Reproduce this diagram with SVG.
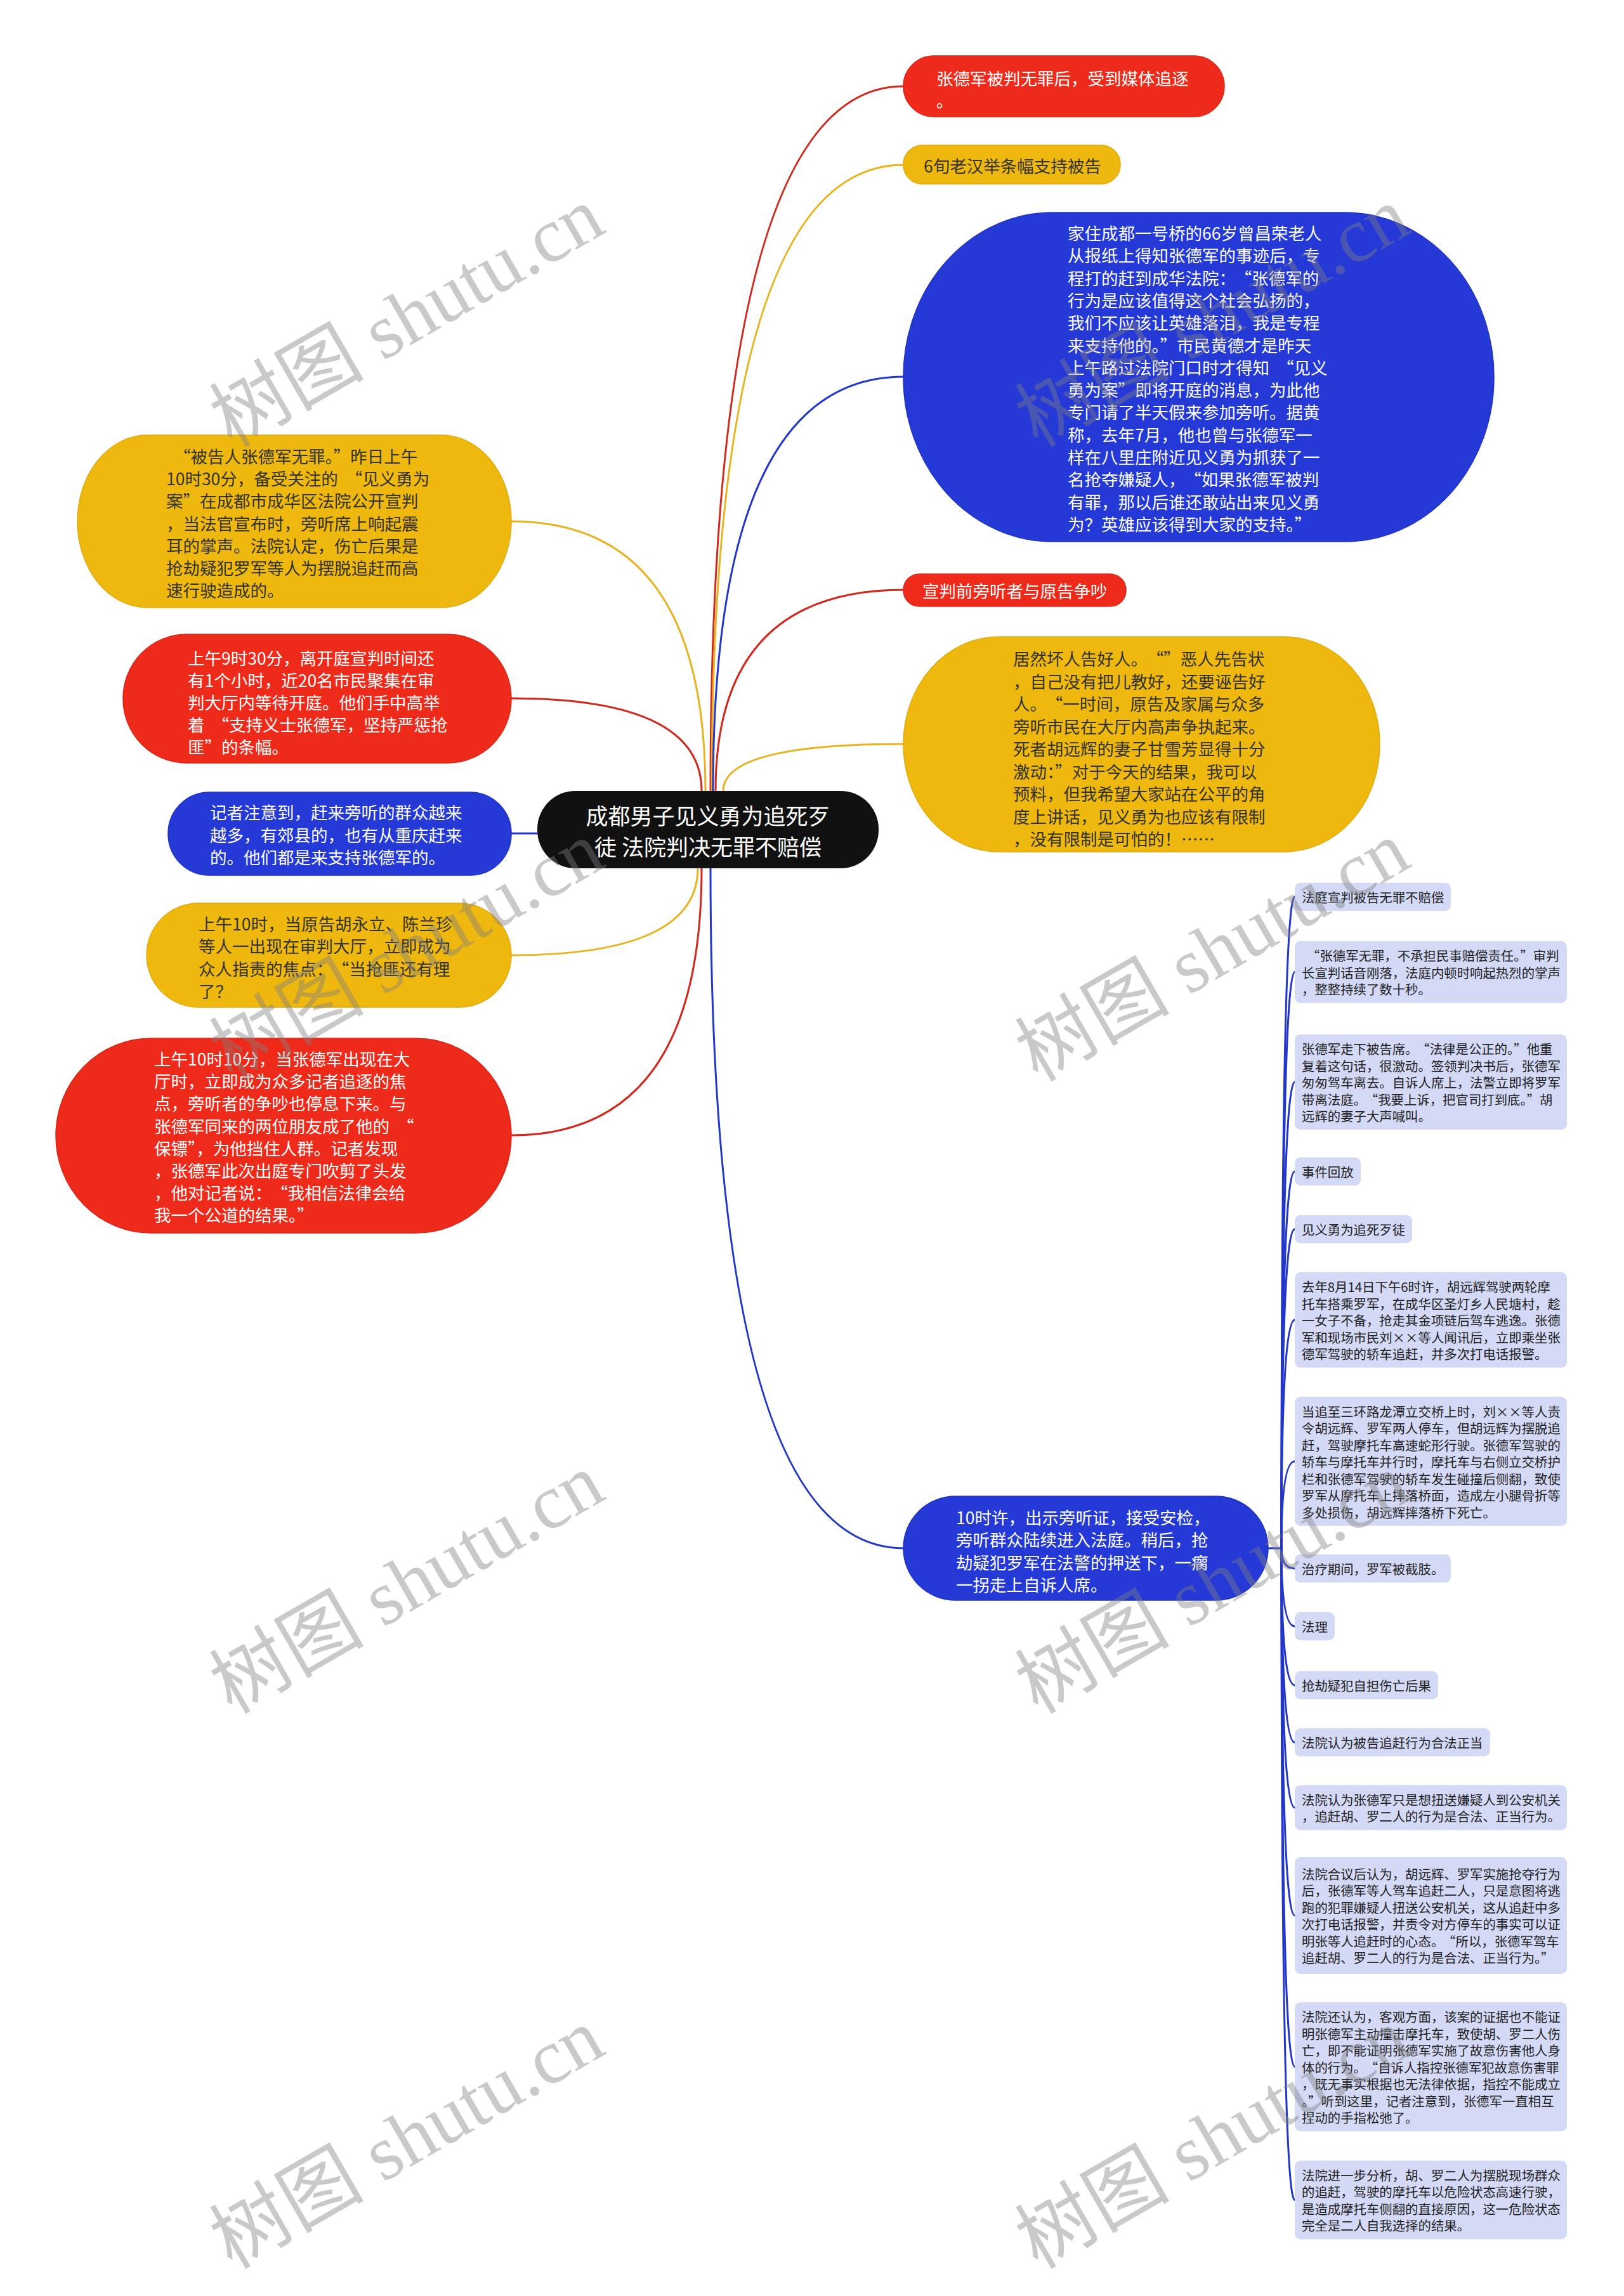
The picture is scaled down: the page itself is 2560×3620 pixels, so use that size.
<svg xmlns="http://www.w3.org/2000/svg" width="2560" height="3620" viewBox="0 0 2560 3620">
<style>
text{font-family:"Noto Sans CJK SC","Noto Sans",sans-serif;dominant-baseline:central}
.m{font-size:26.5px}
.w{fill:#ffffff}
.d{fill:#333333}
.s{font-size:20.4px;fill:#222222}
.ctr{font-size:35px;fill:#ffffff;text-anchor:middle}
.red{fill:#ee2a1b;stroke:#d8261a;stroke-width:1.5}
.yel{fill:#efb80f;stroke:#e0ab0c;stroke-width:1.5}
.blu{fill:#2439d6;stroke:#1f32c0;stroke-width:1.5}
.lav{fill:#d4d9f6}
.cr{fill:none;stroke:#d0281c;stroke-width:3}
.cy{fill:none;stroke:#e8b321;stroke-width:3}
.cb{fill:none;stroke:#2236c9;stroke-width:3}
.wm{font-family:"Liberation Serif","Noto Sans CJK SC",serif;font-size:122px;fill:#808080;opacity:0.42;text-anchor:middle;dominant-baseline:auto}
</style>
<rect width="2560" height="3620" fill="#ffffff"/>
<g id="connectors">
<path class="cr" d="M1120,1247 Q1120,136 1424,136"/>
<path class="cy" d="M1122,1247 Q1122,260 1424,260"/>
<path class="cb" d="M1124,1247 Q1124,594 1424,594"/>
<path class="cr" d="M1128,1247 Q1128,930 1424,930"/>
<path class="cy" d="M1140,1247 Q1140,1173 1424,1173"/>
<path class="cy" d="M1112,1247 Q1112,822 806,822"/>
<path class="cr" d="M1106,1247 Q1106,1101 806,1101"/>
<path class="cb" d="M806,1314 L847,1314"/>
<path class="cy" d="M1100,1369 Q1100,1506 806,1506"/>
<path class="cr" d="M1106,1369 Q1106,1790 806,1790"/>
<path class="cb" d="M1120,1369 Q1120,2441 1424,2441"/>
<path class="cb" d="M1999,2441 H2020"/>
<path class="cb" d="M2020,2441 Q2020,1414 2041,1414"/>
<path class="cb" d="M2020,2441 Q2020,1532.5 2041,1532.5"/>
<path class="cb" d="M2020,2441 Q2020,1706 2041,1706"/>
<path class="cb" d="M2020,2441 Q2020,1847 2041,1847"/>
<path class="cb" d="M2020,2441 Q2020,1938 2041,1938"/>
<path class="cb" d="M2020,2441 Q2020,2081 2041,2081"/>
<path class="cb" d="M2020,2441 Q2020,2304 2041,2304"/>
<path class="cb" d="M2020,2441 Q2020,2473 2041,2473"/>
<path class="cb" d="M2020,2441 Q2020,2564 2041,2564"/>
<path class="cb" d="M2020,2441 Q2020,2657 2041,2657"/>
<path class="cb" d="M2020,2441 Q2020,2747 2041,2747"/>
<path class="cb" d="M2020,2441 Q2020,2850 2041,2850"/>
<path class="cb" d="M2020,2441 Q2020,3020 2041,3020"/>
<path class="cb" d="M2020,2441 Q2020,3258.5 2041,3258.5"/>
<path class="cb" d="M2020,2441 Q2020,3468.5 2041,3468.5"/>
</g>
<g id="center">
<rect x="847" y="1247" width="538" height="122" rx="60" fill="#111111"/>
<text class="ctr"><tspan x="1116" y="1284">成都男子见义勇为追死歹</tspan><tspan x="1116" y="1333">徒 法院判决无罪不赔偿</tspan></text>
</g>
<g id="n-media">
<rect class="red" x="1424" y="88" width="506" height="96" rx="48"/>
<text class="m w"><tspan x="1476" y="122">张德军被判无罪后，受到媒体追逐</tspan><tspan x="1476" y="157">。</tspan></text>
</g>
<g id="n-banner">
<rect class="yel" x="1424" y="229" width="342" height="61" rx="30"/>
<text class="m d" x="1456" y="260">6旬老汉举条幅支持被告</text>
</g>
<g id="n-elder">
<rect class="blu" x="1424" y="335" width="931" height="519" rx="235" ry="259"/>
<text class="m w">
<tspan x="1683" y="366">家住成都一号桥的66岁曾昌荣老人</tspan>
<tspan x="1683" y="401.3">从报纸上得知张德军的事迹后，专</tspan>
<tspan x="1683" y="436.6">程打的赶到成华法院：<tspan dx="12">“</tspan>张德军的</tspan>
<tspan x="1683" y="471.9">行为是应该值得这个社会弘扬的，</tspan>
<tspan x="1683" y="507.2">我们不应该让英雄落泪，我是专程</tspan>
<tspan x="1683" y="542.5">来支持他的。”市民黄德才是昨天</tspan>
<tspan x="1683" y="577.8">上午路过法院门口时才得知<tspan dx="12">“</tspan>见义</tspan>
<tspan x="1683" y="613.1">勇为案”即将开庭的消息，为此他</tspan>
<tspan x="1683" y="648.4">专门请了半天假来参加旁听。据黄</tspan>
<tspan x="1683" y="683.7">称，去年7月，他也曾与张德军一</tspan>
<tspan x="1683" y="719">样在八里庄附近见义勇为抓获了一</tspan>
<tspan x="1683" y="754.3">名抢夺嫌疑人，<tspan dx="12">“</tspan>如果张德军被判</tspan>
<tspan x="1683" y="789.6">有罪，那以后谁还敢站出来见义勇</tspan>
<tspan x="1683" y="824.9">为？英雄应该得到大家的支持。”</tspan>
</text>
</g>
<g id="n-quarrel">
<rect class="red" x="1424" y="905" width="351" height="51" rx="25"/>
<text class="m w" x="1454" y="930">宣判前旁听者与原告争吵</text>
</g>
<g id="n-wife">
<rect class="yel" x="1424" y="1004" width="751" height="339" rx="150" ry="169"/>
<text class="m d">
<tspan x="1597" y="1037">居然坏人告好人。<tspan dx="12">“</tspan>”恶人先告状</tspan>
<tspan x="1597" y="1072.5">，自己没有把儿教好，还要诬告好</tspan>
<tspan x="1597" y="1108">人。<tspan dx="12">“</tspan>一时间，原告及家属与众多</tspan>
<tspan x="1597" y="1143.5">旁听市民在大厅内高声争执起来。</tspan>
<tspan x="1597" y="1179">死者胡远辉的妻子甘雪芳显得十分</tspan>
<tspan x="1597" y="1214.5">激动：”对于今天的结果，我可以</tspan>
<tspan x="1597" y="1250">预料，但我希望大家站在公平的角</tspan>
<tspan x="1597" y="1285.5">度上讲话，见义勇为也应该有限制</tspan>
<tspan x="1597" y="1321">，没有限制是可怕的！……</tspan>
</text>
</g>
<g id="n-enter">
<rect class="blu" x="1424" y="2359" width="575" height="164" rx="82"/>
<text class="m w">
<tspan x="1507" y="2391">10时许，出示旁听证，接受安检，</tspan>
<tspan x="1507" y="2426.3">旁听群众陆续进入法庭。稍后，抢</tspan>
<tspan x="1507" y="2461.6">劫疑犯罗军在法警的押送下，一瘸</tspan>
<tspan x="1507" y="2496.9">一拐走上自诉人席。</tspan>
</text>
</g>
<g id="n-verdict">
<rect class="yel" x="122" y="686" width="684" height="272" rx="110" ry="136"/>
<text class="m d">
<tspan x="262" y="718"><tspan dx="12">“</tspan>被告人张德军无罪。”昨日上午</tspan>
<tspan x="262" y="753.2">10时30分，备受关注的<tspan dx="12">“</tspan>见义勇为</tspan>
<tspan x="262" y="788.4">案”在成都市成华区法院公开宣判</tspan>
<tspan x="262" y="823.6">，当法官宣布时，旁听席上响起震</tspan>
<tspan x="262" y="858.8">耳的掌声。法院认定，伤亡后果是</tspan>
<tspan x="262" y="894">抢劫疑犯罗军等人为摆脱追赶而高</tspan>
<tspan x="262" y="929.2">速行驶造成的。</tspan>
</text>
</g>
<g id="n-930">
<rect class="red" x="194" y="1000" width="612" height="203" rx="100" ry="101"/>
<text class="m w">
<tspan x="296" y="1036">上午9时30分，离开庭宣判时间还</tspan>
<tspan x="296" y="1071">有1个小时，近20名市民聚集在审</tspan>
<tspan x="296" y="1106">判大厅内等待开庭。他们手中高举</tspan>
<tspan x="296" y="1141">着<tspan dx="12">“</tspan>支持义士张德军，坚持严惩抢</tspan>
<tspan x="296" y="1176">匪”的条幅。</tspan>
</text>
</g>
<g id="n-reporter">
<rect class="blu" x="265" y="1249" width="541" height="131" rx="65"/>
<text class="m w">
<tspan x="331" y="1279.3">记者注意到，赶来旁听的群众越来</tspan>
<tspan x="331" y="1314.6">越多，有郊县的，也有从重庆赶来</tspan>
<tspan x="331" y="1349.9">的。他们都是来支持张德军的。</tspan>
</text>
</g>
<g id="n-1000">
<rect class="yel" x="231" y="1424" width="575" height="164" rx="82"/>
<text class="m d">
<tspan x="313" y="1455">上午10时，当原告胡永立、陈兰珍</tspan>
<tspan x="313" y="1490.3">等人一出现在审判大厅，立即成为</tspan>
<tspan x="313" y="1525.6">众人指责的焦点：<tspan dx="12">“</tspan>当抢匪还有理</tspan>
<tspan x="313" y="1560.9">了？</tspan>
</text>
</g>
<g id="n-1010">
<rect class="red" x="88" y="1637" width="718" height="307" rx="150" ry="153"/>
<text class="m w">
<tspan x="243" y="1668">上午10时10分，当张德军出现在大</tspan>
<tspan x="243" y="1703.2">厅时，立即成为众多记者追逐的焦</tspan>
<tspan x="243" y="1738.4">点，旁听者的争吵也停息下来。与</tspan>
<tspan x="243" y="1773.6">张德军同来的两位朋友成了他的<tspan dx="12">“</tspan></tspan>
<tspan x="243" y="1808.8">保镖”，为他挡住人群。记者发现</tspan>
<tspan x="243" y="1844">，张德军此次出庭专门吹剪了头发</tspan>
<tspan x="243" y="1879.2">，他对记者说：<tspan dx="12">“</tspan>我相信法律会给</tspan>
<tspan x="243" y="1914.4">我一个公道的结果。”</tspan>
</text>
</g>
<g id="c-a">
<rect class="lav" x="2041" y="1391.75" width="246" height="44.5" rx="9"/>
<text class="s" x="2052" y="1414">法庭宣判被告无罪不赔偿</text>
</g>
<g id="c-b">
<rect class="lav" x="2041" y="1483.75" width="429" height="97.5" rx="9"/>
<text class="s">
<tspan x="2052" y="1506"><tspan dx="8">“</tspan>张德军无罪，不承担民事赔偿责任。”审判</tspan>
<tspan x="2052" y="1532.5">长宣判话音刚落，法庭内顿时响起热烈的掌声</tspan>
<tspan x="2052" y="1559">，整整持续了数十秒。</tspan>
</text>
</g>
<g id="c-c">
<rect class="lav" x="2041" y="1630.75" width="429" height="150.5" rx="9"/>
<text class="s">
<tspan x="2052" y="1653">张德军走下被告席。<tspan dx="8">“</tspan>法律是公正的。”他重</tspan>
<tspan x="2052" y="1679.5">复着这句话，很激动。签领判决书后，张德军</tspan>
<tspan x="2052" y="1706">匆匆驾车离去。自诉人席上，法警立即将罗军</tspan>
<tspan x="2052" y="1732.5">带离法庭。<tspan dx="8">“</tspan>我要上诉，把官司打到底。”胡</tspan>
<tspan x="2052" y="1759">远辉的妻子大声喊叫。</tspan>
</text>
</g>
<g id="c-d">
<rect class="lav" x="2041" y="1824.75" width="104" height="44.5" rx="9"/>
<text class="s" x="2052" y="1847">事件回放</text>
</g>
<g id="c-e">
<rect class="lav" x="2041" y="1915.75" width="185" height="44.5" rx="9"/>
<text class="s" x="2052" y="1938">见义勇为追死歹徒</text>
</g>
<g id="c-f">
<rect class="lav" x="2041" y="2005.75" width="429" height="150.5" rx="9"/>
<text class="s">
<tspan x="2052" y="2028">去年8月14日下午6时许，胡远辉驾驶两轮摩</tspan>
<tspan x="2052" y="2054.5">托车搭乘罗军，在成华区圣灯乡人民塘村，趁</tspan>
<tspan x="2052" y="2081">一女子不备，抢走其金项链后驾车逃逸。张德</tspan>
<tspan x="2052" y="2107.5">军和现场市民刘××等人闻讯后，立即乘坐张</tspan>
<tspan x="2052" y="2134">德军驾驶的轿车追赶，并多次打电话报警。</tspan>
</text>
</g>
<g id="c-g">
<rect class="lav" x="2041" y="2202.25" width="429" height="203.5" rx="9"/>
<text class="s">
<tspan x="2052" y="2224.5">当追至三环路龙潭立交桥上时，刘××等人责</tspan>
<tspan x="2052" y="2251">令胡远辉、罗军两人停车，但胡远辉为摆脱追</tspan>
<tspan x="2052" y="2277.5">赶，驾驶摩托车高速蛇形行驶。张德军驾驶的</tspan>
<tspan x="2052" y="2304">轿车与摩托车并行时，摩托车与右侧立交桥护</tspan>
<tspan x="2052" y="2330.5">栏和张德军驾驶的轿车发生碰撞后侧翻，致使</tspan>
<tspan x="2052" y="2357">罗军从摩托车上摔落桥面，造成左小腿骨折等</tspan>
<tspan x="2052" y="2383.5">多处损伤，胡远辉摔落桥下死亡。</tspan>
</text>
</g>
<g id="c-h">
<rect class="lav" x="2041" y="2450.75" width="246" height="44.5" rx="9"/>
<text class="s" x="2052" y="2473">治疗期间，罗军被截肢。</text>
</g>
<g id="c-i">
<rect class="lav" x="2041" y="2541.75" width="63" height="44.5" rx="9"/>
<text class="s" x="2052" y="2564">法理</text>
</g>
<g id="c-j">
<rect class="lav" x="2041" y="2634.75" width="226" height="44.5" rx="9"/>
<text class="s" x="2052" y="2657">抢劫疑犯自担伤亡后果</text>
</g>
<g id="c-k">
<rect class="lav" x="2041" y="2724.75" width="308" height="44.5" rx="9"/>
<text class="s" x="2052" y="2747">法院认为被告追赶行为合法正当</text>
</g>
<g id="c-l">
<rect class="lav" x="2041" y="2814.5" width="429" height="71" rx="9"/>
<text class="s">
<tspan x="2052" y="2836.75">法院认为张德军只是想扭送嫌疑人到公安机关</tspan>
<tspan x="2052" y="2863.25">，追赶胡、罗二人的行为是合法、正当行为。</tspan>
</text>
</g>
<g id="c-m">
<rect class="lav" x="2041" y="2928" width="429" height="184" rx="9"/>
<text class="s">
<tspan x="2052" y="2953.75">法院合议后认为，胡远辉、罗军实施抢夺行为</tspan>
<tspan x="2052" y="2980.25">后，张德军等人驾车追赶二人，只是意图将逃</tspan>
<tspan x="2052" y="3006.75">跑的犯罪嫌疑人扭送公安机关，这从追赶中多</tspan>
<tspan x="2052" y="3033.25">次打电话报警，并责令对方停车的事实可以证</tspan>
<tspan x="2052" y="3059.75">明张等人追赶时的心态。<tspan dx="8">“</tspan>所以，张德军驾车</tspan>
<tspan x="2052" y="3086.25">追赶胡、罗二人的行为是合法、正当行为。”</tspan>
</text>
</g>
<g id="c-n">
<rect class="lav" x="2041" y="3156.75" width="429" height="203.5" rx="9"/>
<text class="s">
<tspan x="2052" y="3179">法院还认为，客观方面，该案的证据也不能证</tspan>
<tspan x="2052" y="3205.5">明张德军主动撞击摩托车，致使胡、罗二人伤</tspan>
<tspan x="2052" y="3232">亡，即不能证明张德军实施了故意伤害他人身</tspan>
<tspan x="2052" y="3258.5">体的行为。<tspan dx="8">“</tspan>自诉人指控张德军犯故意伤害罪</tspan>
<tspan x="2052" y="3285">，既无事实根据也无法律依据，指控不能成立</tspan>
<tspan x="2052" y="3311.5">。”听到这里，记者注意到，张德军一直相互</tspan>
<tspan x="2052" y="3338">捏动的手指松弛了。</tspan>
</text>
</g>
<g id="c-o">
<rect class="lav" x="2041" y="3406.5" width="429" height="124" rx="9"/>
<text class="s">
<tspan x="2052" y="3428.75">法院进一步分析，胡、罗二人为摆脱现场群众</tspan>
<tspan x="2052" y="3455.25">的追赶，驾驶的摩托车以危险状态高速行驶，</tspan>
<tspan x="2052" y="3481.75">是造成摩托车侧翻的直接原因，这一危险状态</tspan>
<tspan x="2052" y="3508.25">完全是二人自我选择的结果。</tspan>
</text>
</g>
<g id="watermark">
<text class="wm" x="646" y="540" transform="rotate(-30 646 508)">树图 shutu.cn</text>
<text class="wm" x="1916" y="540" transform="rotate(-30 1916 508)">树图 shutu.cn</text>
<text class="wm" x="646" y="1540" transform="rotate(-30 646 1508)">树图 shutu.cn</text>
<text class="wm" x="1916" y="1540" transform="rotate(-30 1916 1508)">树图 shutu.cn</text>
<text class="wm" x="646" y="2537" transform="rotate(-30 646 2505)">树图 shutu.cn</text>
<text class="wm" x="1916" y="2537" transform="rotate(-30 1916 2505)">树图 shutu.cn</text>
<text class="wm" x="646" y="3412" transform="rotate(-30 646 3380)">树图 shutu.cn</text>
<text class="wm" x="1916" y="3412" transform="rotate(-30 1916 3380)">树图 shutu.cn</text>
</g>
</svg>
